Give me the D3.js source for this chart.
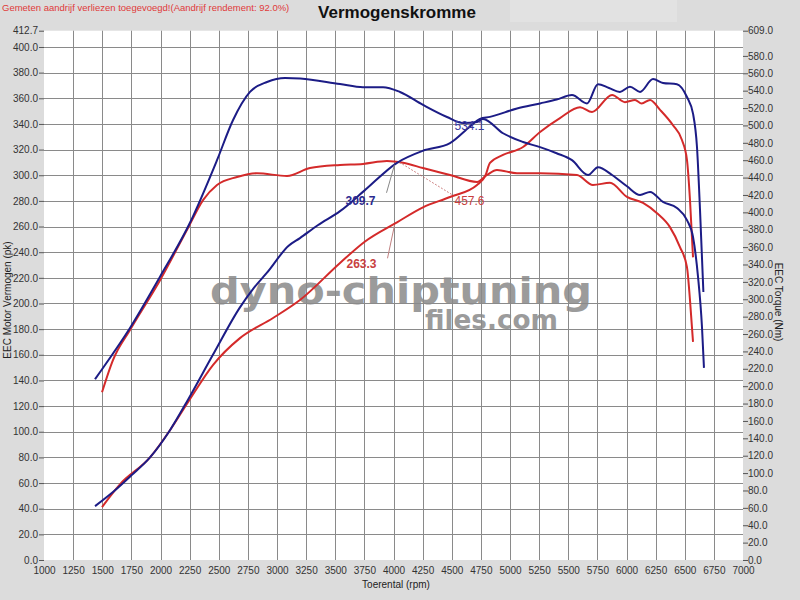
<!DOCTYPE html>
<html>
<head>
<meta charset="utf-8">
<script src="https://cdnjs.cloudflare.com/ajax/libs/d3/7.8.5/d3.min.js"></script>
<style>
  body { margin: 0; background: #dedede; }
  svg { display: block; font-family: "Liberation Sans", Arial, sans-serif; }
</style>
</head>
<body>
<div id="chart"></div>
<script>
// tuned power (pk) - blue
const tunedPowerRpm = [1438,1592,1750,1910,2080,2236,2450,2682,2800,2914,3100,3197,3350,3541,3750,4030,4250,4485,4657,4742,4828,5060,5258,5400,5532,5661,5755,5850,5944,6030,6116,6228,6313,6433,6519,6571,6605,6631,6660];
const tunedPower = [42,53,66,80,101,125,160,197,212,224,245,251,261,272,288,309.7,319,325,338,344,345.5,352,356,359,362.5,356,371,368,365,369,365,375,372,371,361,348,322,273,209];

// stock power (pk) - red
const stockPowerRpm = [1498,1652,1910,2080,2236,2450,2682,2966,3197,3541,3750,4030,4253,4485,4717,4790,4828,4940,5112,5258,5429,5601,5704,5876,5987,6073,6130,6202,6288,6399,6476,6519,6545,6571];
const stockPower = [41.3,59,80,101,123,152,173,188.7,202.7,231.6,248,263.3,275,283,292.4,300,309.6,315.8,322,333.7,344.6,353,349.3,362.6,357,358.7,356,358.7,351,339,327.5,312,280.7,236];

// tuned torque (Nm) - blue
const tunedTorqueRpm = [1438,1480,1738,1996,2253,2485,2622,2768,2914,3069,3200,3541,3738,3910,4056,4253,4459,4597,4717,4768,4940,5112,5258,5400,5532,5670,5755,5876,6004,6116,6202,6313,6433,6519,6571,6614,6648,6665];
const tunedTorque = [208,216,267,326,388,460,506,538.6,550,554.6,554,547.6,544,544,538.5,523.6,509.7,502.8,504,507.5,491,481,475,468,460,443,452,443,430,420,423.5,412,405,391,371.6,325.7,268,221];

// stock torque (Nm) - red
const stockTorqueRpm = [1498,1592,1738,1996,2236,2365,2485,2657,2828,3086,3283,3541,3738,3944,4082,4253,4485,4717,4803,4888,5060,5258,5575,5712,5858,6004,6142,6262,6373,6459,6519,6545,6571];
const stockTorque = [193,230,264.6,322,382,414,431.5,440.7,445,441.8,451,454.5,455.7,459,457,451,443,435,443,448.7,445,445,443,431.5,434,417.7,410.8,399,383,360,337,299,251];

// axis ticks
const rpmTicks = d3.range(1000, 7001, 250);
const powerTicks = d3.range(0, 401, 20).concat([412.7]);
const torqueTicks = d3.range(0, 581, 20).concat([609]);

// cursor readout at 4000 rpm
const cursorRpm = 4000;
const cursorLabels = ["309.7", "263.3", "457.6", "534.1"];

const width = 800, height = 600;
const svg = d3.select('#chart').append('svg')
    .attr('width', width)
    .attr('height', height);

svg.append('rect').attr('width', width).attr('height', height).attr('fill', '#dcdcdc');
svg.append('rect').attr('x', 510).attr('y', 0).attr('width', 167).attr('height', 22).attr('fill', '#e2e2e2');

const x = d3.scaleLinear().domain([1000, 7000]).range([44, 743]);
const yP = d3.scaleLinear().domain([0, 412.7]).range([560, 30.7]);
const yT = d3.scaleLinear().domain([0, 609]).range([560, 30.7]);

// plot area
svg.append('rect')
    .attr('x', x(1000)).attr('y', yP(412.7))
    .attr('width', x(7000) - x(1000)).attr('height', yP(0) - yP(412.7))
    .attr('fill', '#fff');

// grid
const grid = svg.append('g').attr('stroke', '#8a8a8a').attr('stroke-width', 1);
grid.selectAll('line.v').data(rpmTicks.filter(d => d > 1000 && d < 7000)).join('line')
    .attr('x1', d => Math.round(x(d)) + 0.5).attr('x2', d => Math.round(x(d)) + 0.5)
    .attr('y1', yP(412.7)).attr('y2', yP(0));
grid.selectAll('line.h').data(powerTicks.filter(d => d > 0 && d < 412)).join('line')
    .attr('x1', x(1000)).attr('x2', x(7000))
    .attr('y1', d => Math.round(yP(d)) + 0.5).attr('y2', d => Math.round(yP(d)) + 0.5);

// watermark
const wm = svg.append('g').attr('fill', '#8a8a8a').attr('opacity', 0.85)
    .attr('font-family', '"DejaVu Sans", sans-serif').attr('font-weight', 'bold');
wm.append('text').attr('x', 210).attr('y', 304).attr('font-size', 38)
    .attr('textLength', 382).attr('lengthAdjust', 'spacingAndGlyphs').text('dyno-chiptuning');
wm.append('text').attr('x', 425).attr('y', 329).attr('font-size', 27)
    .attr('textLength', 133).attr('lengthAdjust', 'spacingAndGlyphs').text('files.com');

// axes
const axisStyle = g => {
    g.select('.domain').remove();
    g.selectAll('.tick line').attr('stroke', '#555');
    g.selectAll('.tick text').attr('fill', '#333').attr('font-size', 10)
        .attr('font-family', '"Liberation Sans", Arial, sans-serif');
};
svg.append('g').attr('transform', `translate(${x(1000)},0)`)
    .call(d3.axisLeft(yP).tickValues(powerTicks).tickFormat(d3.format('.1f')).tickSize(5).tickPadding(1))
    .call(axisStyle);
svg.append('g').attr('transform', `translate(${x(7000)},0)`)
    .call(d3.axisRight(yT).tickValues(torqueTicks).tickFormat(d3.format('.1f')).tickSize(5).tickPadding(0))
    .call(axisStyle);
svg.append('g').attr('transform', `translate(0,${yP(0)})`)
    .call(d3.axisBottom(x).tickValues(rpmTicks).tickFormat(d3.format('d')).tickSize(0).tickPadding(7))
    .call(axisStyle);

// curves
const line = d3.line().curve(d3.curveMonotoneX);
function drawSeries(rpm, vals, yScale, color) {
    svg.append('path')
        .datum(rpm.map((r, i) => [x(r), yScale(vals[i])]))
        .attr('d', line)
        .attr('fill', 'none')
        .attr('stroke', color)
        .attr('stroke-width', 2)
        .attr('stroke-linejoin', 'round');
}
const blue = '#1c1c86', red = '#d42a2a';
drawSeries(stockTorqueRpm, stockTorque, yT, red);
drawSeries(stockPowerRpm, stockPower, yP, red);
drawSeries(tunedTorqueRpm, tunedTorque, yT, blue);
drawSeries(tunedPowerRpm, tunedPower, yP, blue);

// cursor readouts
const cx = x(cursorRpm);
const ann = svg.append('g').attr('font-size', 12).attr('font-weight', 'bold')
    .attr('font-family', '"Liberation Sans", Arial, sans-serif');
// tuned power
ann.append('line').attr('x1', cx - 7).attr('y1', yP(+cursorLabels[0]) + 30)
    .attr('x2', cx + 1).attr('y2', yP(+cursorLabels[0]) + 2).attr('stroke', '#888');
ann.append('text').attr('x', cx - 33).attr('y', yP(+cursorLabels[0]) + 42)
    .attr('text-anchor', 'middle').attr('fill', '#2a2a90').text(cursorLabels[0]);
// stock power
ann.append('line').attr('x1', cx - 6).attr('y1', yP(+cursorLabels[1]) + 36)
    .attr('x2', cx + 1).attr('y2', yP(+cursorLabels[1]) + 3).attr('stroke', '#c08080');
ann.append('text').attr('x', cx - 32).attr('y', yP(+cursorLabels[1]) + 46)
    .attr('text-anchor', 'middle').attr('fill', '#c84040').text(cursorLabels[1]);
// stock torque
ann.append('line').attr('x1', cx + 6).attr('y1', yT(+cursorLabels[2]))
    .attr('x2', cx + 58).attr('y2', yT(+cursorLabels[2]) + 32)
    .attr('stroke', '#c06060').attr('stroke-dasharray', '1.5,2');
ann.append('text').attr('x', cx + 76).attr('y', yT(+cursorLabels[2]) + 43)
    .attr('text-anchor', 'middle').attr('fill', '#c84040').attr('font-weight', 'normal').text(cursorLabels[2]);
// tuned torque
ann.append('text').attr('x', cx + 76).attr('y', yT(+cursorLabels[3]) + 34)
    .attr('text-anchor', 'middle').attr('fill', '#3a3aa0').attr('font-weight', 'normal').text(cursorLabels[3]);

// titles
svg.append('text').attr('x', 397).attr('y', 18).attr('text-anchor', 'middle')
    .attr('font-size', 17).attr('font-weight', 'bold').attr('fill', '#111')
    .text('Vermogenskromme');
svg.append('text').attr('x', 2).attr('y', 11).attr('font-size', 9.5).attr('fill', '#e03a3a')
    .text('Gemeten aandrijf verliezen toegevoegd!(Aandrijf rendement: 92.0%)');
svg.append('text').attr('x', 396).attr('y', 588).attr('text-anchor', 'middle')
    .attr('font-size', 10).attr('fill', '#222').text('Toerental (rpm)');
svg.append('text').attr('transform', 'translate(11,300) rotate(-90)').attr('text-anchor', 'middle')
    .attr('font-size', 10).attr('fill', '#222').text('EEC Motor Vermogen (pk)');
svg.append('text').attr('transform', 'translate(775,302) rotate(90)').attr('text-anchor', 'middle')
    .attr('font-size', 10).attr('fill', '#222').text('EEC Torque (Nm)');
</script>
</body>
</html>
